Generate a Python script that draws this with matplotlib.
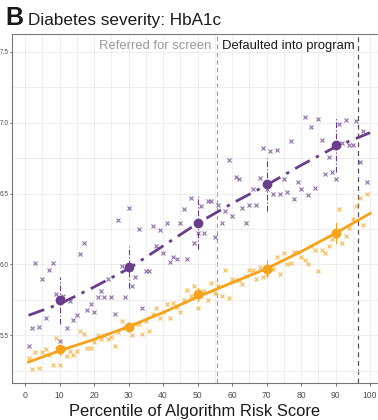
import matplotlib.pyplot as plt
import numpy as np

plt.rcParams['font.family'] = ['Liberation Sans', 'DejaVu Sans']

# percentile bins (one point per percentile)
pct = list(range(1, 100))

# black patients (purple)
hba1c_black = [5.42, 5.55, 6.01, 5.56, 5.90, 5.62, 5.96, 6.01, 5.79, 5.46,
               5.78, 5.55, 5.74, 5.61, 5.64, 6.07, 6.15, 5.68, 5.72, 5.66,
               5.77, 5.81, 5.77, 5.90, 5.77, 5.65, 6.31, 5.99, 5.77, 6.40,
               5.85, 5.91, 6.25, 5.69, 5.95, 5.95, 6.27, 6.13, 6.24, 6.08,
               6.29, 6.02, 6.05, 6.04, 6.29, 6.39, 6.04, 6.47, 6.15, 6.22,
               6.41, 6.22, 6.45, 6.45, 6.19, 6.42, 6.29, 6.38, 6.74, 6.34,
               6.62, 6.60, 6.40, 6.29, 6.42, 6.53, 6.42, 6.61, 6.82, 6.53,
               6.80, 6.50, 6.81, 6.50, 6.60, 6.51, 6.87, 6.46, 6.58, 6.53,
               7.04, 6.49, 6.97, 6.54, 7.03, 6.88, 6.64, 6.76, 6.65, 6.60,
               6.99, 6.86, 7.02, 6.84, 6.84, 7.01, 6.72, 6.94, 6.58]

# white patients (orange)
hba1c_white = [5.34, 5.26, 5.38, 5.27, 5.38, 5.40, 5.36, 5.29, 5.48, 5.29,
               5.41, 5.35, 5.39, 5.36, 5.39, 5.53, 5.51, 5.41, 5.41, 5.45,
               5.50, 5.47, 5.50, 5.47, 5.49, 5.42, 5.52, 5.60, 5.55, 5.55,
               5.50, 5.58, 5.58, 5.51, 5.60, 5.53, 5.65, 5.69, 5.62, 5.66,
               5.72, 5.62, 5.73, 5.70, 5.66, 5.75, 5.82, 5.78, 5.85, 5.69,
               5.78, 5.81, 5.75, 5.87, 5.80, 5.85, 5.78, 5.96, 5.76, 5.90,
               5.89, 5.89, 5.86, 5.92, 5.96, 5.96, 5.90, 5.98, 5.91, 5.93,
               5.97, 5.97, 6.05, 5.93, 6.08, 6.00, 6.01, 6.09, 6.09, 6.05,
               6.03, 6.00, 6.13, 6.10, 5.95, 6.10, 6.08, 6.13, 6.18, 6.20,
               6.39, 6.15, 6.20, 6.26, 6.32, 6.41, 6.47, 6.28, 6.50]

# decile means with intervals
dec_x = [10, 30, 50, 70, 90]
dec_black = [5.75, 5.98, 6.29, 6.57, 6.84]
dec_black_lo = [5.58, 5.83, 6.11, 6.38, 6.65]
dec_black_hi = [5.91, 6.13, 6.48, 6.75, 7.04]
dec_white = [5.40, 5.56, 5.79, 5.97, 6.22]
dec_white_lo = [5.36, 5.52, 5.74, 5.91, 6.15]
dec_white_hi = [5.43, 5.59, 5.83, 6.03, 6.29]

# smoothed fit lines
fit_x = [1, 10, 20, 30, 40, 50, 60, 70, 80, 90, 100]
fit_black = [5.64, 5.72, 5.84, 5.97, 6.13, 6.29, 6.43, 6.56, 6.70, 6.83, 6.93]
fit_white = [5.31, 5.39, 5.47, 5.56, 5.66, 5.77, 5.87, 5.97, 6.09, 6.22, 6.36]

# program thresholds
cut_screen = 55.6
cut_default = 96.5

purple = '#6a3d8c'
orange = '#f7a21b'

fig = plt.figure(figsize=(3.78, 4.2), dpi=100)
ax = fig.add_axes([12 / 378, 1 - 383 / 420, 1 - 12 / 378, (383 - 34) / 420])

# grid every 5 / 0.25 like ggplot
ax.set_xticks(np.arange(0, 101, 10))
ax.set_xticks(np.arange(-5, 105, 5), minor=True)
ax.set_yticks([5.5, 6.0, 6.5, 7.0, 7.5])
ax.set_yticks(np.arange(5.25, 7.75, 0.25), minor=True)
ax.grid(True, which='both', color='#ebebeb', lw=0.6, zorder=0)
ax.tick_params(which='minor', length=0)
ax.tick_params(axis='x', which='major', length=2.5, width=0.6, color='#555555',
               labelsize=6.2, labelcolor='#4d4d4d', pad=3)
ax.tick_params(axis='y', which='major', length=1.5, width=0.6, color='#555555',
               labelsize=4.7, labelcolor='#4d4d4d', pad=0.8)
ax.set_yticklabels(['5.5', '6.0', '6.5', '7.0', '7.5'])

ax.set_xlim(-3.8, 102.3)
ax.set_ylim(5.162, 7.627)
for s in ['left', 'bottom', 'top']:
    ax.spines[s].set_color('#777777')
    ax.spines[s].set_linewidth(0.8)
ax.spines['right'].set_visible(False)

# threshold lines
ax.axvline(cut_screen, color='#9a9a9a', ls=(0, (4, 3)), lw=0.8, zorder=1)
ax.axvline(cut_default, color='#555555', ls=(0, (4, 3)), lw=0.9, zorder=1)
ax.text(cut_screen - 1.6, 7.545, 'Referred for screen', ha='right', va='center',
        fontsize=9.4, color='#9a9a9a')
ax.text(cut_screen + 1.6, 7.545, 'Defaulted into program', ha='left', va='center',
        fontsize=9.4, color='#1a1a1a')

# raw points
ax.plot(pct, hba1c_black, 'x', color=purple, ms=3, mew=0.8, alpha=0.75, zorder=2)
ax.plot(pct, hba1c_white, 'x', color=orange, ms=3, mew=0.8, alpha=0.75, zorder=2)

# fitted curves
ax.plot(fit_x, fit_black, color=purple, lw=2, ls=(0, (6, 2.5, 1.2, 2.5)), zorder=3)
ax.plot(fit_x, fit_white, color=orange, lw=2, zorder=3)

# decile means
for x, lo, hi in zip(dec_x, dec_black_lo, dec_black_hi):
    ax.plot([x, x], [lo, hi], color=purple, lw=0.8, ls=(0, (5, 2, 1, 2)), zorder=3)
for x, lo, hi in zip(dec_x, dec_white_lo, dec_white_hi):
    ax.plot([x, x], [lo, hi], color=orange, lw=0.8, zorder=3)
ax.plot(dec_x, dec_black, 'o', color=purple, ms=6, zorder=4)
ax.plot(dec_x, dec_white, 'o', color=orange, ms=6, zorder=4)

ax.set_xlabel('Percentile of Algorithm Risk Score', fontsize=11.9,
              color='#1a1a1a', labelpad=3)

# panel title
fig.text(5 / 378, 1 - 25 / 420, 'B', fontsize=18, fontweight='bold',
         color='#1a1a1a', va='baseline')
fig.text(28 / 378, 1 - 25 / 420, 'Diabetes severity: HbA1c', fontsize=12.3,
         color='#1a1a1a', va='baseline')

plt.savefig('out.png', dpi=100)
